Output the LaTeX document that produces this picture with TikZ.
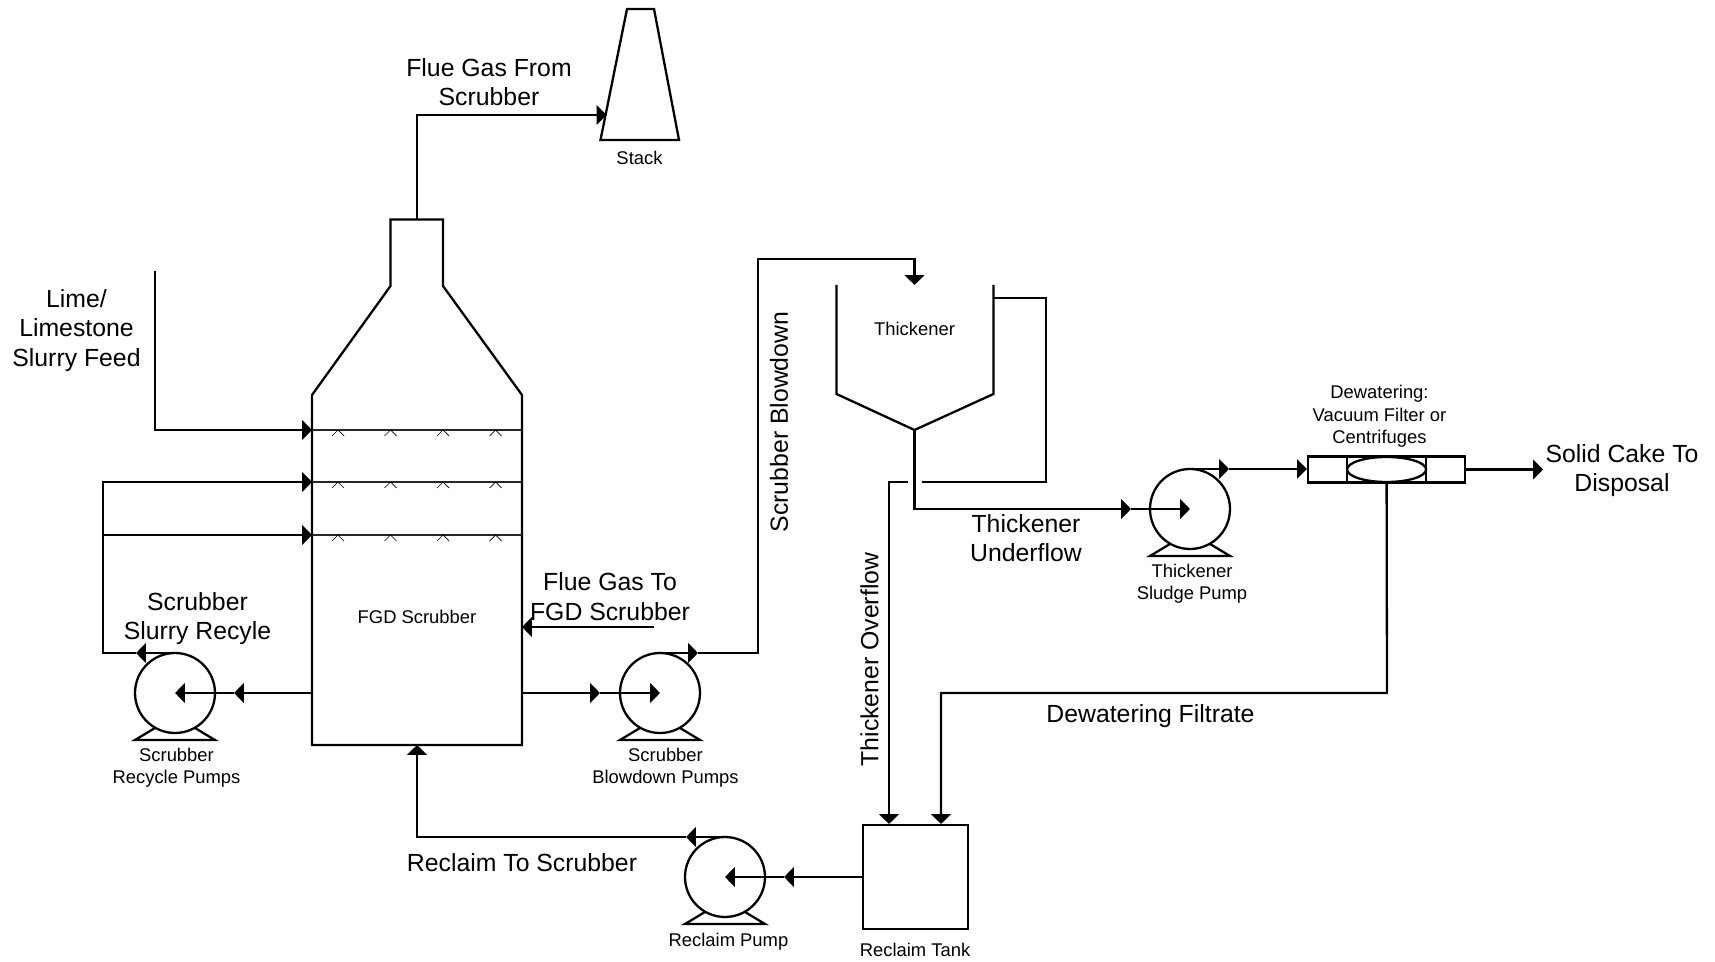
\documentclass[tikz,border=0pt]{standalone}
\usepackage{fontspec}
\setmainfont{Liberation Sans}
\usetikzlibrary{arrows.meta,calc}
\tikzset{
  pipe/.style={line width=1.15pt,line join=miter},
  flow/.style={pipe,-{Triangle[length=4.9pt,width=9.6pt]}},
  equip/.style={line width=1.15pt,line join=miter},
  spray/.style={line width=0.7pt,draw=black!85},
  caret/.style={line width=0.35pt},
  pumpbody/.style={circle,draw,line width=1.15pt,minimum size=40pt,inner sep=0pt},
  biglabel/.style={font=\fontsize{12.4}{14.8}\selectfont,align=center,inner sep=0pt},
  smalllabel/.style={font=\fontsize{9.2}{11.2}\selectfont,align=center,inner sep=0pt},
}
% pump: name, x, y
\newcommand{\pumpat}[3]{%
  \node[pumpbody] (#1) at (#2,#3) {};
  \draw[equip] ($(#1.center)+(-20,35)$) -- ($(#1.center)+(-40,47)$) -- ($(#1.center)+(40,47)$) -- ($(#1.center)+(20,35)$);
}
\newcommand{\caretsat}[1]{%
  \foreach \cx in {338,390.5,443,495.6}{\draw[caret] (\cx-6,#1+6) -- (\cx,#1) -- (\cx+6,#1+6);}
}
\begin{document}
\begin{tikzpicture}[x=0.5pt,y=-0.5pt]
\useasboundingbox (0,0) rectangle (1715,962);

% --- scrubber vessel
\coordinate (scrTL) at (312,395);
\coordinate (scrBL) at (312,745);
\coordinate (scrBR) at (522,745);
\coordinate (scrTR) at (522,395);
\coordinate (scrTop) at (417,219.5);
\draw[equip] (390.5,219.5) -- (390.5,286) -- (scrTL) -- (scrBL) -- (scrBR) -- (scrTR) -- (443,286) -- (443,219.5) -- cycle;
\node[smalllabel] (fgd) at (417,617) {FGD Scrubber};

% spray headers
\coordinate (s1L) at (312,430); \coordinate (s1R) at (522,430);
\coordinate (s2L) at (312,482); \coordinate (s2R) at (522,482);
\coordinate (s3L) at (312,535); \coordinate (s3R) at (522,535);
\draw[spray] (s1L) -- (s1R);
\draw[spray] (s2L) -- (s2R);
\draw[spray] (s3L) -- (s3R);
\caretsat{430}
\caretsat{482}
\caretsat{535}

% --- stack
\coordinate (stackIn) at (606.5,115);
\draw[equip] (627,9) -- (654,9) -- (679,140) -- (600.5,140) -- cycle;
\node[smalllabel] (stacklbl) at (639.5,157.5) {Stack};

% --- pumps
\pumpat{recyP}{175}{693}
\pumpat{blowP}{660}{693}
\pumpat{thkP}{1190}{509}
\pumpat{recP}{725}{877}

% --- thickener
\coordinate (thkL) at (836.5,285);
\coordinate (thkR) at (993.5,285);
\coordinate (thkB) at (914.5,430);
\coordinate (thkIn) at (914.5,285);
\draw[equip] (thkL) -- (836.5,394) -- (thkB) -- (993.5,394) -- (thkR);
\node[smalllabel] (thklbl) at (914.5,329) {Thickener};

% --- dewatering filter
\node[draw,line width=1.15pt,minimum width=78.6pt,minimum height=13pt,inner sep=0pt] (filt) at (1386.6,469.5) {};
\draw[equip] (1347,456.5) -- (1347,482.5);
\draw[equip] (1426,456.5) -- (1426,482.5);
\draw[equip] (1386.6,469.5) ellipse (39.5 and 12.5);

% --- reclaim tank
\node[draw,line width=1.15pt,minimum width=52.5pt,minimum height=52.2pt,inner sep=0pt] (tank) at (915.5,877) {};

% --- free ends and bends
\coordinate (feedS) at (155,271);
\coordinate (feedB) at (155,430);
\draw[flow] (feedS) -- (feedB) -- (s1L);

% recycle
\coordinate (recyOut) at (175,653);
\coordinate (recyMid) at (136,653);
\coordinate (rL) at (103,653);
\coordinate (rT) at (103,482);
\coordinate (r3) at (103,535);
\coordinate (recyIn) at (234,693);
\draw[flow] (312,693) -- (recyIn);
\draw[flow] (recyIn) -- (recyP.center);
\draw[flow] (recyOut) -- (recyMid);
\draw[flow] (recyMid) -- (rL) -- (rT) -- (s2L);
\draw[flow] (r3) -- (s3L);

% blowdown
\coordinate (blowIn) at (600,693);
\coordinate (blowOut) at (660,653);
\coordinate (blowMid) at (698,653);
\coordinate (b1) at (758,653);
\coordinate (b2) at (758,259);
\coordinate (b3) at (914.5,259);
\draw[flow] (522,693) -- (blowIn);
\draw[flow] (blowIn) -- (blowP.center);
\draw[flow] (blowOut) -- (blowMid);
\draw[flow] (blowMid) -- (b1) -- (b2) -- (b3) -- (thkIn);

% flue gas
\coordinate (fgIn) at (654,627);
\draw[flow] (fgIn) -- (522,627);
\coordinate (fgOutB) at (417,115);
\draw[flow] (scrTop) -- (fgOutB) -- (stackIn);

% thickener overflow
\coordinate (ov0) at (993.5,298);
\coordinate (ov1) at (1046,298);
\coordinate (ov2) at (1046,482);
\coordinate (ov3) at (922,482);
\coordinate (ov4) at (908,482);
\coordinate (ov5) at (889,482);
\coordinate (ov6) at (889,824);
\draw[pipe] (ov0) -- (ov1) -- (ov2) -- (ov3);
\draw[flow] (ov4) -- (ov5) -- (ov6);

% thickener underflow
\coordinate (un1) at (914.5,509);
\coordinate (unMid) at (1131,509);
\draw[flow] (thkB) -- (un1) -- (unMid);
\draw[flow] (unMid) -- (thkP.center);

% to filter
\coordinate (thkOut) at (1190,469);
\coordinate (thkOutMid) at (1229,469);
\draw[flow] (thkOut) -- (thkOutMid);
\draw[flow] (thkOutMid) -- (filt.west |- thkOutMid);

% solid cake
\coordinate (cake) at (1543,469.5);
\draw[flow] (filt.east) -- (cake);

% filtrate
\coordinate (f1) at (1387,693);
\coordinate (f2) at (941,693);
\coordinate (f3) at (941,824);
\draw[flow] (filt.south) -- (f1) -- (f2) -- (f3);

% reclaim
\coordinate (recIn) at (784,877);
\coordinate (recOut) at (725,837);
\coordinate (recMid) at (686,837);
\coordinate (rc1) at (417,837);
\coordinate (rc2) at (417,745);
\draw[flow] (tank.west) -- (recIn);
\draw[flow] (recIn) -- (recP.center);
\draw[flow] (recOut) -- (recMid);
\draw[flow] (recMid) -- (rc1) -- (rc2);

% --- labels
\node[biglabel] (l1) at (489,82) {Flue Gas From\\Scrubber};
\node[biglabel] (l2) at (76.5,330.5) {Lime/\\Limestone\\Slurry Feed};
\node[biglabel] (l3) at (610,596.5) {Flue Gas To\\FGD Scrubber};
\node[biglabel] (l4) at (197.5,618.5) {Scrubber\\Slurry Recyle};
\node[biglabel,rotate=90] (l5) at (779,422) {Scrubber Blowdown};
\node[biglabel] (l6) at (1026,538) {Thickener\\Underflow};
\node[biglabel] (l7) at (1622,470.5) {Solid Cake To\\Disposal};
\node[biglabel,rotate=90] (l8) at (869.5,659.5) {Thickener Overflow};
\node[biglabel] (l9) at (1150.5,716) {Dewatering Filtrate};
\node[biglabel] (l10) at (522,863) {Reclaim To Scrubber};
\node[smalllabel] (s1) at (176.5,768) {Scrubber\\Recycle Pumps};
\node[smalllabel] (s2) at (665.5,768) {Scrubber\\Blowdown Pumps};
\node[smalllabel] (s3) at (1192,584) {Thickener\\Sludge Pump};
\node[smalllabel] (s4) at (1379.5,416.5) {Dewatering:\\Vacuum Filter or\\Centrifuges};
\node[smalllabel] (s5) at (728.5,942) {Reclaim Pump};
\node[smalllabel] (s6) at (915,949.5) {Reclaim Tank};
\end{tikzpicture}
\end{document}
